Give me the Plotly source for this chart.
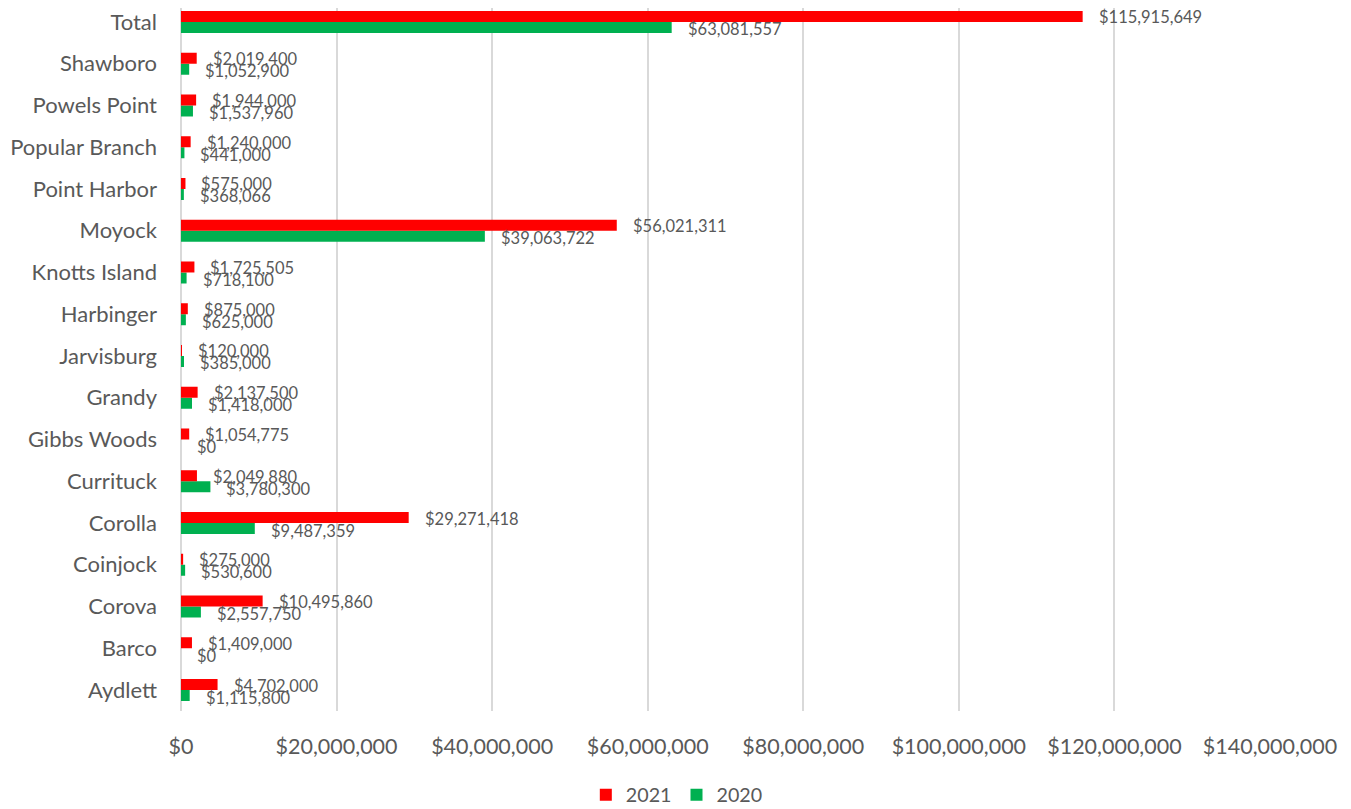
import plotly.graph_objects as go

categories = ["Aydlett", "Barco", "Corova", "Coinjock", "Corolla", "Currituck",
              "Gibbs Woods", "Grandy", "Jarvisburg", "Harbinger", "Knotts Island",
              "Moyock", "Point Harbor", "Popular Branch", "Powels Point",
              "Shawboro", "Total"]
values_2021 = [4702000, 1409000, 10495860, 275000, 29271418, 2049880,
               1054775, 2137500, 120000, 875000, 1725505,
               56021311, 575000, 1240000, 1944000, 2019400, 115915649]
values_2020 = [1115800, 0, 2557750, 530600, 9487359, 3780300,
               0, 1418000, 385000, 625000, 718100,
               39063722, 368066, 441000, 1537960, 1052900, 63081557]
x_ticks = [0, 20000000, 40000000, 60000000, 80000000, 100000000, 120000000, 140000000]
x_tick_text = ["${:,}".format(v) for v in x_ticks]

TXT = "#595959"
FONT = "Lato"
bargap = 0.473
half = (1 - bargap) / 4  # offset of each bar centre from category centre

fig = go.Figure()
fig.add_trace(go.Bar(y=categories, x=values_2020, orientation="h", name="2020",
                     marker=dict(color="#00B050", line=dict(width=0)),
                     hoverinfo="x+y"))
fig.add_trace(go.Bar(y=categories, x=values_2021, orientation="h", name="2021",
                     marker=dict(color="#FF0000", line=dict(width=0)),
                     hoverinfo="x+y"))

annotations = []
for i, (v21, v20) in enumerate(zip(values_2021, values_2020)):
    annotations.append(dict(x=v21, y=i + half, xref="x", yref="y",
                            text="${:,}".format(v21), showarrow=False,
                            xanchor="left", yanchor="middle", xshift=14, yshift=-1,
                            font=dict(family=FONT, size=16.5, color=TXT)))
    annotations.append(dict(x=v20, y=i - half, xref="x", yref="y",
                            text="${:,}".format(v20), showarrow=False,
                            xanchor="left", yanchor="middle", xshift=14, yshift=-2,
                            font=dict(family=FONT, size=16.5, color=TXT)))

fig.update_layout(
    width=1343, height=801,
    barmode="group", bargap=bargap, bargroupgap=0,
    plot_bgcolor="white", paper_bgcolor="white",
    margin=dict(l=173, r=81, t=0, b=98, autoexpand=False),
    font=dict(family=FONT, color=TXT),
    annotations=annotations,
    showlegend=True,
    legend=dict(orientation="h", traceorder="reversed",
                xref="container", yref="container",
                x=0.498, xanchor="center", y=0.0175, yanchor="middle",
                font=dict(family=FONT, size=19.7, color=TXT),
                itemwidth=30, itemsizing="constant"),
    xaxis=dict(range=[0, 140000000], tickvals=x_ticks, ticktext=x_tick_text,
               showgrid=True, gridcolor="#D9D9D9", gridwidth=2,
               zeroline=True, zerolinecolor="#D9D9D9", zerolinewidth=2,
               showline=False, ticks="", ticklabelstandoff=20,
               tickfont=dict(family=FONT, size=21.5, color=TXT),
               automargin=False, fixedrange=True),
    yaxis=dict(type="category", categoryorder="array", categoryarray=categories,
               range=[-0.503, 16.335],
               showgrid=False, zeroline=False, showline=False, ticks="",
               ticklabelstandoff=23,
               tickfont=dict(family=FONT, size=22, color=TXT),
               automargin=False, fixedrange=True),
)

fig.write_html("out.html")
